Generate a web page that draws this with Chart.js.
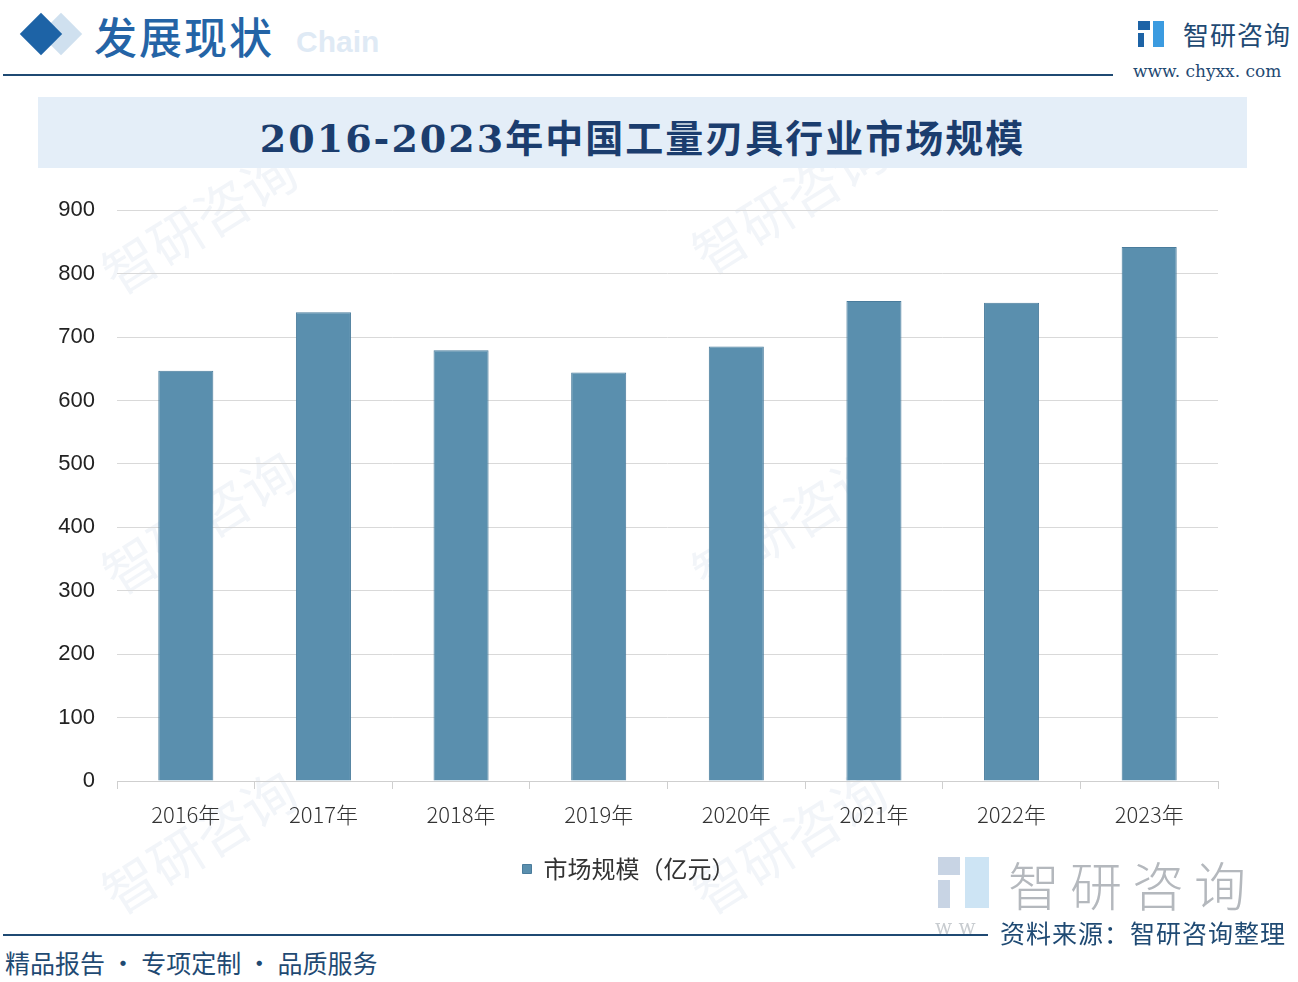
<!DOCTYPE html>
<html>
<head>
<meta charset="utf-8">
<script src="https://cdn.jsdelivr.net/npm/chart.js@4.4.1/dist/chart.umd.min.js"></script>
<style>
  html, body { margin: 0; padding: 0; background: #fff; }
  body { width: 1298px; height: 982px; position: relative; overflow: hidden; font-family: "Noto Sans CJK SC", sans-serif; }
  .abs { position: absolute; }
  .wm { position: absolute; color: rgba(40, 90, 150, 0.06); font-size: 54px; transform: rotate(-32deg); white-space: nowrap; }
</style>
</head>
<body>
<!-- faint watermarks -->
<div class="wm" style="left:90px;top:180px;">智研咨询</div>
<div class="wm" style="left:680px;top:160px;">智研咨询</div>
<div class="wm" style="left:90px;top:480px;">智研咨询</div>
<div class="wm" style="left:680px;top:480px;">智研咨询</div>
<div class="wm" style="left:90px;top:800px;">智研咨询</div>
<div class="wm" style="left:680px;top:800px;">智研咨询</div>

<!-- header -->
<div class="abs" style="left:46px;top:19px;width:30px;height:30px;background:#cfe0ef;transform:rotate(45deg);"></div>
<div class="abs" style="left:26px;top:19px;width:30px;height:30px;background:#1d63a6;transform:rotate(45deg);"></div>
<div class="abs" style="left:296px;top:25px;font:bold 30px 'Liberation Sans';color:#dfeaf5;">Chain</div>
<div class="abs" style="left:94px;top:4px;font-size:43px;font-weight:500;color:#2464a6;letter-spacing:2px;">发展现状</div>
<div class="abs" style="left:3px;top:74px;width:1110px;height:2px;background:#1f4a73;"></div>

<!-- top right logo -->
<div class="abs" style="left:1138px;top:21px;width:12px;height:9px;background:#1d63a6;"></div>
<div class="abs" style="left:1138px;top:33px;width:6px;height:14px;background:#1d63a6;"></div>
<div class="abs" style="left:1153px;top:21px;width:11px;height:26px;background:#3b9be0;"></div>
<div class="abs" style="left:1183px;top:15px;font-size:26px;color:#1f4a73;letter-spacing:1px;">智研咨询</div>
<div class="abs" style="left:1133px;top:61px;font:17px 'DejaVu Serif';color:#1f4a73;">www. chyxx. com</div>

<!-- title band -->
<div class="abs" style="left:38px;top:97px;width:1209px;height:71px;background:#e4eef8;"></div>
<div class="abs" style="left:38px;top:108px;width:1209px;text-align:center;font:bold 38px 'DejaVu Serif','Noto Sans CJK SC';color:#1b3d6e;letter-spacing:2px;">2016-2023年中国工量刃具行业市场规模</div>

<!-- chart -->
<div class="abs" style="left:40px;top:175px;width:1200px;height:716px;">
  <canvas id="myChart"></canvas>
</div>

<!-- bottom right watermark logo -->
<div class="abs" style="left:938px;top:857px;width:22px;height:18px;background:#c8d4e4;"></div>
<div class="abs" style="left:938px;top:880px;width:12px;height:28px;background:#c8d4e4;"></div>
<div class="abs" style="left:965px;top:857px;width:24px;height:51px;background:#cde4f4;"></div>
<div class="abs" style="left:1008px;top:846px;font-size:52px;font-weight:300;color:#b4b8bd;letter-spacing:10px;">智研咨询</div>
<div class="abs" style="left:935px;top:915px;font:20px 'DejaVu Serif';color:#c8ccd0;">w w</div>
<div class="abs" style="left:1000px;top:914px;font-size:25px;color:#1f4a73;letter-spacing:1px;">资料来源：智研咨询整理</div>

<!-- footer -->
<div class="abs" style="left:3px;top:934px;width:985px;height:2px;background:#1f4a73;"></div>
<div class="abs" style="left:5px;top:944px;font-size:25px;color:#1f4a73;">精品报告 · 专项定制 · 品质服务</div>

<script>
const years = ['2016年', '2017年', '2018年', '2019年', '2020年', '2021年', '2022年', '2023年'];
const marketSize = [647, 739, 679, 644, 685, 757, 754, 842];
const seriesName = '市场规模（亿元）';
const yTicks = [0, 100, 200, 300, 400, 500, 600, 700, 800, 900];

const ctx = document.getElementById('myChart').getContext('2d');

new Chart(ctx, {
  type: 'bar',
  data: {
    labels: years,
    datasets: [{
      label: seriesName,
      data: marketSize,
      backgroundColor: '#5a8fae',
      borderColor: '#4a7c9c',
      borderWidth: 1,
      barPercentage: 0.4,
      categoryPercentage: 1
    }]
  },
  options: {
    responsive: true,
    maintainAspectRatio: false,
    animation: false,
    layout: { padding: { top: 15, right: 22, left: 0, bottom: 0 } },
    plugins: {
      tooltip: { enabled: false },
      legend: {
        position: 'bottom',
        labels: {
          boxWidth: 9,
          boxHeight: 9,
          padding: 19,
          color: '#333',
          font: { size: 24, family: 'Noto Sans CJK SC' }
        }
      }
    },
    scales: {
      x: {
        grid: {
          display: true,
          drawOnChartArea: false,
          drawTicks: true,
          tickLength: 8,
          offset: true,
          color: '#cfcfcf'
        },
        border: { color: '#cfcfcf' },
        ticks: {
          color: '#333',
          padding: 12,
          font: { size: 22, family: 'Noto Sans CJK SC', weight: 300 }
        },
        afterFit: function (scale) { scale.height = 57; }
      },
      y: {
        min: 0,
        max: 900,
        afterBuildTicks: function (scale) { scale.ticks = yTicks.map(v => ({ value: v })); },
        grid: { color: '#d9d9d9', drawTicks: false },
        border: { display: false },
        ticks: {
          color: '#222',
          padding: 22,
          font: { size: 22, family: 'Liberation Sans' }
        },
        afterFit: function (scale) { scale.width = 77; }
      }
    }
  }
});
</script>
</body>
</html>
